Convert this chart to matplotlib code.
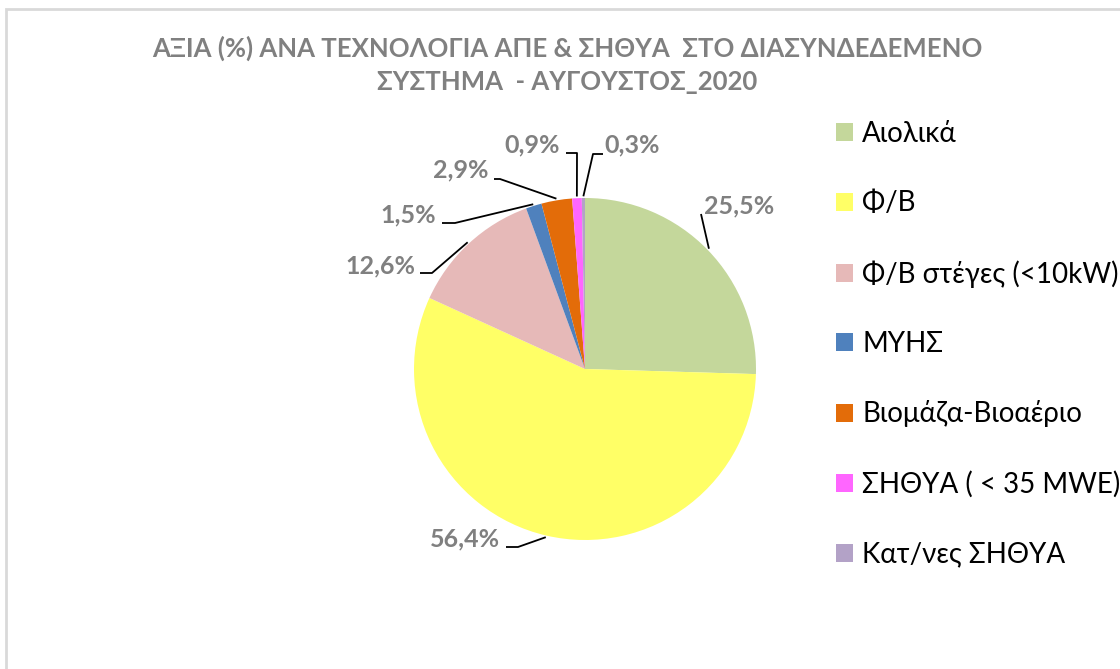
import numpy as np
import matplotlib.pyplot as plt
from matplotlib.patches import Rectangle

# data
technologies = ['Αιολικά', 'Φ/Β', 'Φ/Β στέγες (<10kW)', 'ΜΥΗΣ',
                'Βιομάζα-Βιοαέριο', 'ΣΗΘΥΑ ( < 35 MWE)', 'Κατ/νες ΣΗΘΥΑ']
shares = [25.5, 56.4, 12.6, 1.5, 2.9, 0.9, 0.3]
share_labels = ['25,5%', '56,4%', '12,6%', '1,5%', '2,9%', '0,9%', '0,3%']
colors = ['#C4D79B', '#FFFF66', '#E6B9B8', '#4F81BD', '#E36C09', '#FF66FF', '#B3A2C7']

title = 'ΑΞΙΑ (%) ΑΝΑ ΤΕΧΝΟΛΟΓΙΑ ΑΠΕ & ΣΗΘΥΑ  ΣΤΟ ΔΙΑΣΥΝΔΕΔΕΜΕΝΟ\nΣΥΣΤΗΜΑ  - ΑΥΓΟΥΣΤΟΣ_2020'

W, H = 1120, 669
CX, CY, R = 585, 369, 171  # pie centre / radius in pixels

# label layout in pixels: text centre, elbow point, line end
label_layout = [
    ((739, 206), (701, 214), None),
    ((465, 539), (518, 547), (506, 547)),
    ((380, 266), (432, 273), (420, 273)),
    ((408, 215), (455, 223), (442, 223)),
    ((461, 170), (500, 179), (494, 179)),
    ((532, 145), (577, 153), (566, 153)),
    ((632, 145), (593, 154), (603, 154)),
]

plt.rcParams['font.family'] = ['Lato', 'DejaVu Sans']

fig = plt.figure(figsize=(W / 100, H / 100), dpi=100)
fig.patch.set_facecolor('white')

# chart area border (only top/left visible in the crop)
fig.patches.append(Rectangle((6 / W, -0.1), 1.2, (H - 9) / H + 0.1, transform=fig.transFigure,
                             fill=False, edgecolor='#D9D9D9', linewidth=2))

ax = fig.add_axes([(CX - R) / W, (H - CY - R) / H, 2 * R / W, 2 * R / H])
wedges, _ = ax.pie(shares, colors=colors, startangle=90, counterclock=False,
                   radius=1, wedgeprops=dict(linewidth=0))
ax.set_xlim(-1, 1)
ax.set_ylim(-1, 1)
ax.set_aspect('equal')
ax.axis('off')


def px2d(p):
    return ((p[0] - CX) / R, (CY - p[1]) / R)


for w, lab, (tpos, elbow, end) in zip(wedges, share_labels, label_layout):
    ang = np.deg2rad((w.theta1 + w.theta2) / 2)
    start = (1.01 * np.cos(ang), 1.01 * np.sin(ang))
    pts = [start, px2d(elbow)]
    if end is not None:
        pts.append(px2d(end))
    xs, ys = zip(*pts)
    ax.plot(xs, ys, color='black', lw=1.3, clip_on=False, solid_capstyle='butt')
    tx, ty = px2d(tpos)
    ax.text(tx, ty, lab, ha='center', va='center', fontsize=18, fontweight='bold',
            color='#808080', clip_on=False)

fig.text(567 / W, 1 - 65 / H, title, ha='center', va='center', fontsize=18.5,
         fontweight='bold', color='#808080', linespacing=1.45)

ax.legend(wedges, technologies, loc='upper left', bbox_to_anchor=(836 / W, 1 - 121 / H),
          bbox_transform=fig.transFigure, frameon=False, fontsize=20,
          borderpad=0, borderaxespad=0,
          handlelength=0.62, handleheight=0.62, handletextpad=0.33, labelspacing=1.565)

fig.savefig('out.png', dpi=100)
